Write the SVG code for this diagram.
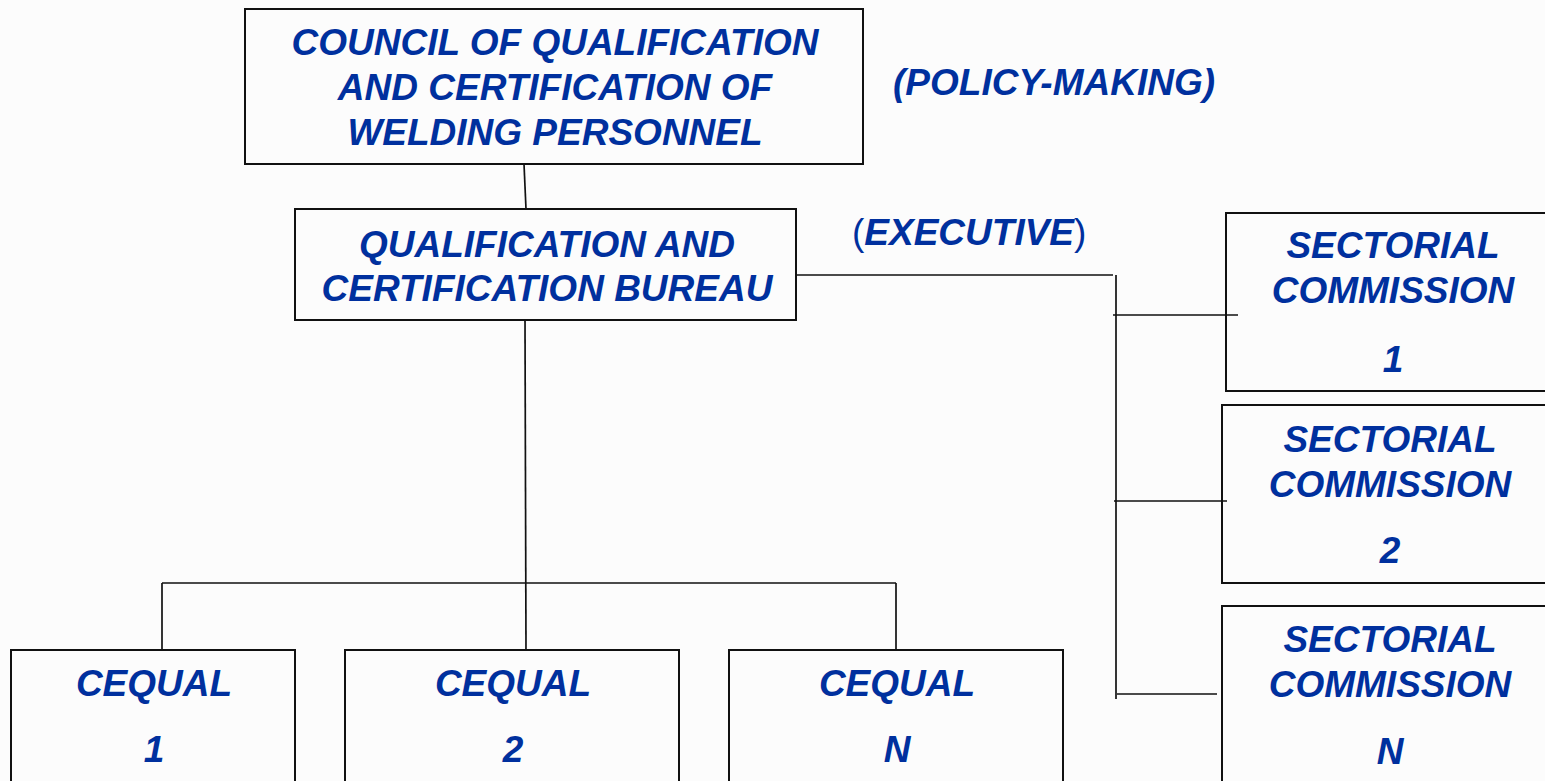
<svg xmlns="http://www.w3.org/2000/svg" width="1545" height="781" viewBox="0 0 1545 781">
<style>
.box{fill:none;stroke:#111;stroke-width:2}
.ln{fill:none;stroke:#111;stroke-width:1.7}
.t{font-family:"Liberation Sans",Arial,sans-serif;font-weight:bold;font-style:italic;font-size:37px;fill:#00309e;text-anchor:middle}
.l{text-anchor:start}
.up{font-style:normal;font-weight:normal}
</style>
<rect width="1545" height="781" fill="#fcfcfc"/>
<g id="connectors">
<line class="ln" x1="524" y1="164" x2="526" y2="209"/>
<line class="ln" x1="525" y1="320" x2="526" y2="650"/>
<line class="ln" x1="162" y1="583" x2="896" y2="583"/>
<line class="ln" x1="162" y1="583" x2="162" y2="650"/>
<line class="ln" x1="896" y1="583" x2="896" y2="650"/>
<line class="ln" x1="796" y1="275" x2="1113" y2="275"/>
<line class="ln" x1="1116" y1="275" x2="1116" y2="699"/>
<line class="ln" x1="1113" y1="315" x2="1238" y2="315"/>
<line class="ln" x1="1114" y1="501" x2="1227" y2="501"/>
<line class="ln" x1="1117" y1="694" x2="1217" y2="694"/>
</g>
<g id="council">
<rect class="box" x="245" y="9" width="618" height="155"/>
<text class="t" x="555" y="55">COUNCIL OF QUALIFICATION</text>
<text class="t" x="555" y="100">AND CERTIFICATION OF</text>
<text class="t" x="555" y="145">WELDING PERSONNEL</text>
</g>
<g id="policy-label">
<text class="t l" x="893" y="95">(POLICY-MAKING)</text>
</g>
<g id="bureau">
<rect class="box" x="295" y="209" width="501" height="111"/>
<text class="t" x="547" y="257">QUALIFICATION AND</text>
<text class="t" x="547" y="301">CERTIFICATION BUREAU</text>
</g>
<g id="executive-label">
<text class="t l" x="852" y="245"><tspan class="up">(</tspan>EXECUTIVE<tspan class="up">)</tspan></text>
</g>
<g id="sector1">
<rect class="box" x="1226" y="213" width="340" height="178"/>
<text class="t" x="1393" y="258">SECTORIAL</text>
<text class="t" x="1393" y="303">COMMISSION</text>
<text class="t" x="1393" y="372">1</text>
</g>
<g id="sector2">
<rect class="box" x="1222" y="405" width="340" height="178"/>
<text class="t" x="1390" y="452">SECTORIAL</text>
<text class="t" x="1390" y="497">COMMISSION</text>
<text class="t" x="1390" y="563">2</text>
</g>
<g id="sectorN">
<rect class="box" x="1222" y="606" width="340" height="190"/>
<text class="t" x="1390" y="652">SECTORIAL</text>
<text class="t" x="1390" y="697">COMMISSION</text>
<text class="t" x="1390" y="764">N</text>
</g>
<g id="cequal1">
<rect class="box" x="11" y="650" width="284" height="150"/>
<text class="t" x="154" y="696">CEQUAL</text>
<text class="t" x="154" y="762">1</text>
</g>
<g id="cequal2">
<rect class="box" x="345" y="650" width="334" height="150"/>
<text class="t" x="513" y="696">CEQUAL</text>
<text class="t" x="513" y="762">2</text>
</g>
<g id="cequalN">
<rect class="box" x="729" y="650" width="334" height="150"/>
<text class="t" x="897" y="696">CEQUAL</text>
<text class="t" x="897" y="762">N</text>
</g>
</svg>
